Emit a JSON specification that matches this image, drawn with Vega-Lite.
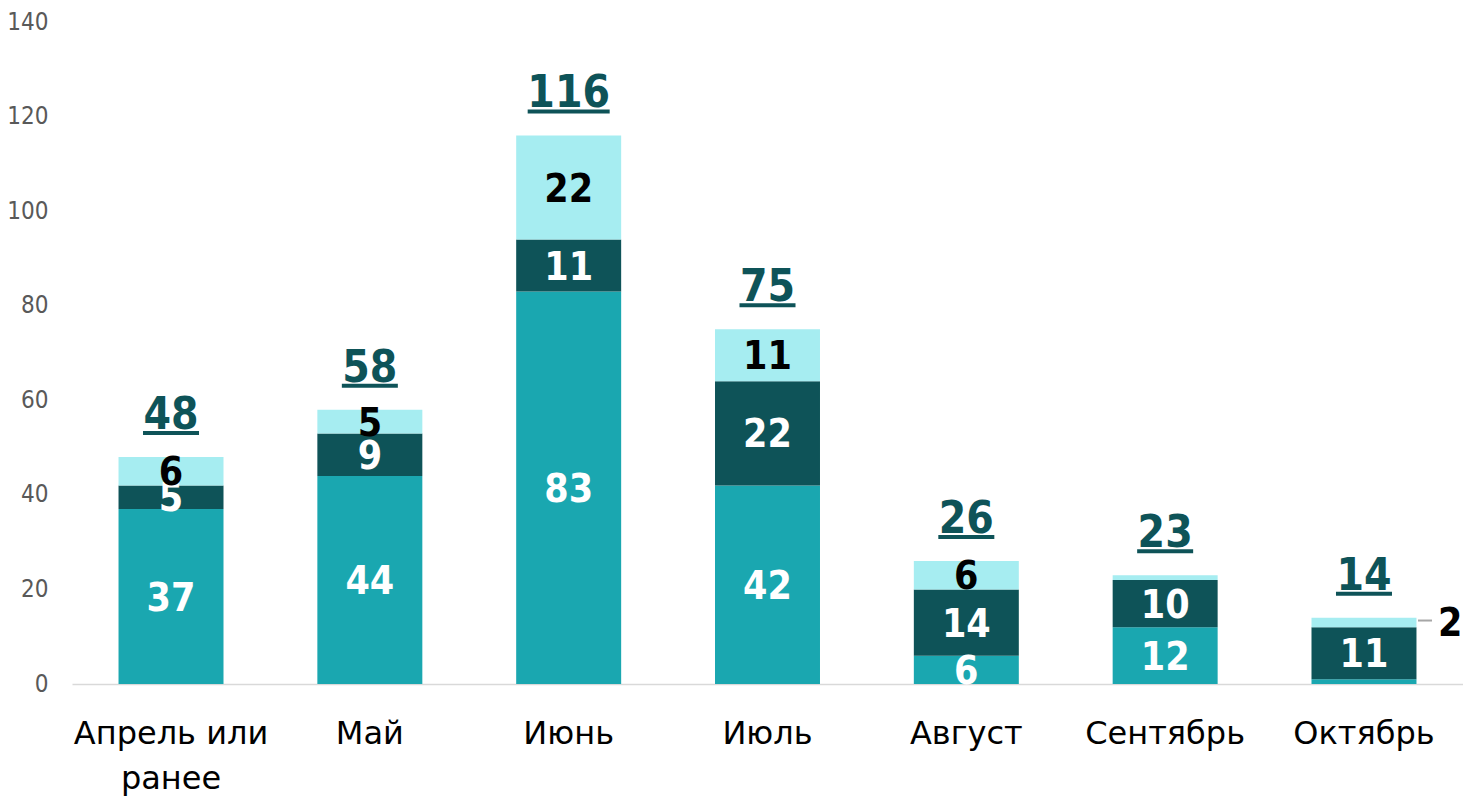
{
  "$schema": "https://vega.github.io/schema/vega-lite/v6.json",
  "autosize": "none",
  "width": 1391,
  "height": 662,
  "padding": {"left": 72, "top": 22, "right": 0, "bottom": 112},
  "background": "white",
  "config": {"view": {"stroke": null}},
  "data": {
    "values": [
      {"month": "Апрель или ранее", "series": "Группа 1", "value": 37},
      {"month": "Апрель или ранее", "series": "Группа 2", "value": 5},
      {"month": "Апрель или ранее", "series": "Группа 3", "value": 6},
      {"month": "Май", "series": "Группа 1", "value": 44},
      {"month": "Май", "series": "Группа 2", "value": 9},
      {"month": "Май", "series": "Группа 3", "value": 5},
      {"month": "Июнь", "series": "Группа 1", "value": 83},
      {"month": "Июнь", "series": "Группа 2", "value": 11},
      {"month": "Июнь", "series": "Группа 3", "value": 22},
      {"month": "Июль", "series": "Группа 1", "value": 42},
      {"month": "Июль", "series": "Группа 2", "value": 22},
      {"month": "Июль", "series": "Группа 3", "value": 11},
      {"month": "Август", "series": "Группа 1", "value": 6},
      {"month": "Август", "series": "Группа 2", "value": 14},
      {"month": "Август", "series": "Группа 3", "value": 6},
      {"month": "Сентябрь", "series": "Группа 1", "value": 12},
      {"month": "Сентябрь", "series": "Группа 2", "value": 10},
      {"month": "Сентябрь", "series": "Группа 3", "value": 1},
      {"month": "Октябрь", "series": "Группа 1", "value": 1},
      {"month": "Октябрь", "series": "Группа 2", "value": 11},
      {"month": "Октябрь", "series": "Группа 3", "value": 2}
    ]
  },
  "encoding": {
    "x": {
      "field": "month",
      "type": "nominal",
      "sort": null,
      "title": null,
      "scale": {"paddingInner": 0.472, "paddingOuter": 0.234},
      "axis": {
        "labelAngle": 0,
        "domainColor": "#D9D9D9",
        "domainWidth": 1.5,
        "ticks": false,
        "labelFont": "DejaVu Sans",
        "labelFontSize": 32,
        "labelColor": "#000000",
        "labelPadding": 49,
        "labelLineHeight": 45,
        "labelBaseline": "middle",
        "labelLimit": 0,
        "labelExpr": "datum.label == 'Апрель или ранее' ? ['Апрель или', 'ранее'] : datum.label"
      }
    }
  },
  "layer": [
    {
      "mark": {"type": "bar"},
      "encoding": {
        "y": {
          "field": "value",
          "type": "quantitative",
          "stack": "zero",
          "scale": {"domain": [0, 140], "nice": false},
          "title": null,
          "axis": {
            "values": [0, 20, 40, 60, 80, 100, 120, 140],
            "domain": false,
            "ticks": false,
            "grid": false,
            "labelFont": "DejaVu Sans Condensed",
            "labelFontSize": 24,
            "labelColor": "#595959",
            "labelPadding": 24
          }
        },
        "color": {
          "field": "series",
          "type": "nominal",
          "legend": null,
          "scale": {
            "domain": ["Группа 1", "Группа 2", "Группа 3"],
            "range": ["#1AA7B0", "#0E5358", "#A6EDF1"]
          }
        },
        "order": {"field": "series", "sort": "ascending"}
      }
    },
    {
      "transform": [
        {"stack": "value", "groupby": ["month"], "sort": [{"field": "series", "order": "ascending"}], "as": ["y0", "y1"]},
        {"calculate": "(datum.y0 + datum.y1) / 2", "as": "mid"},
        {"filter": "datum.value >= 2 && !(datum.month == 'Октябрь' && datum.series == 'Группа 3')"}
      ],
      "mark": {"type": "text", "font": "DejaVu Sans Condensed", "fontWeight": "bold", "fontSize": 39, "baseline": "middle", "align": "center", "dy": 2},
      "encoding": {
        "y": {"field": "mid", "type": "quantitative"},
        "text": {"field": "value", "type": "quantitative"},
        "color": {
          "condition": {"test": "datum.series == 'Группа 3'", "value": "#000000"},
          "value": "#FFFFFF"
        }
      }
    },
    {
      "transform": [
        {"stack": "value", "groupby": ["month"], "sort": [{"field": "series", "order": "ascending"}], "as": ["y0", "y1"]},
        {"calculate": "(datum.y0 + datum.y1) / 2", "as": "mid"},
        {"filter": "datum.month == 'Октябрь' && datum.series == 'Группа 3'"}
      ],
      "mark": {"type": "text", "font": "DejaVu Sans Condensed", "fontWeight": "bold", "fontSize": 39, "baseline": "middle", "align": "left", "dx": 74, "dy": 1, "color": "#000000"},
      "encoding": {
        "y": {"field": "mid", "type": "quantitative"},
        "text": {"field": "value", "type": "quantitative"}
      }
    },
    {
      "transform": [
        {"stack": "value", "groupby": ["month"], "sort": [{"field": "series", "order": "ascending"}], "as": ["y0", "y1"]},
        {"calculate": "(datum.y0 + datum.y1) / 2", "as": "mid"},
        {"filter": "datum.month == 'Октябрь' && datum.series == 'Группа 3'"}
      ],
      "mark": {"type": "rule", "color": "#A6A6A6", "strokeWidth": 2, "xOffset": 54, "x2Offset": 68, "yOffset": -2},
      "encoding": {
        "x2": {"field": "month"},
        "y": {"field": "mid", "type": "quantitative"}
      }
    },
    {
      "transform": [
        {"aggregate": [{"op": "sum", "field": "value", "as": "total"}], "groupby": ["month"]}
      ],
      "mark": {"type": "text", "font": "DejaVu Sans Condensed", "fontWeight": "bold", "fontSize": 44, "baseline": "alphabetic", "align": "center", "dy": -28, "color": "#0E5358"},
      "encoding": {
        "y": {"field": "total", "type": "quantitative"},
        "text": {"field": "total", "type": "quantitative"}
      }
    },
    {
      "transform": [
        {"aggregate": [{"op": "sum", "field": "value", "as": "total"}], "groupby": ["month"]}
      ],
      "mark": {"type": "tick", "orient": "horizontal", "thickness": 4, "opacity": 1, "yOffset": -24, "color": "#0E5358"},
      "encoding": {
        "y": {"field": "total", "type": "quantitative"},
        "size": {"condition": {"test": "datum.total >= 100", "value": 82}, "value": 56}
      }
    }
  ]
}
